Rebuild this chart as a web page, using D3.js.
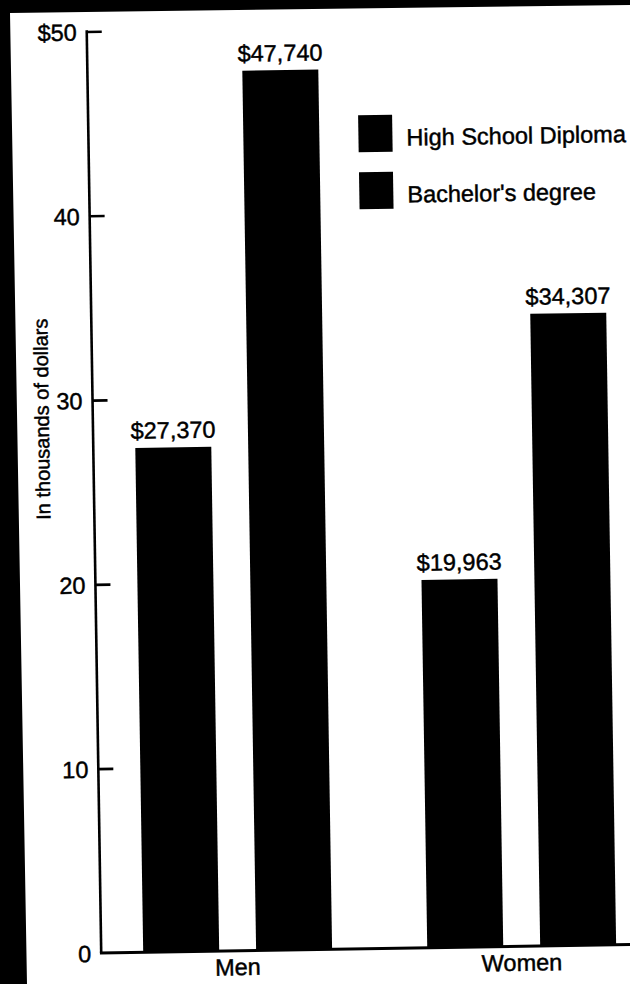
<!DOCTYPE html>
<html>
<head>
<meta charset="utf-8">
<script src="https://cdn.jsdelivr.net/npm/d3@7"></script>
<style>
  html, body { margin: 0; padding: 0; background: #fff; }
  svg { display: block; }
  text { font-family: "Liberation Sans", Arial, Helvetica, sans-serif; fill: #000; stroke: #000; stroke-width: 0.45px; }
</style>
</head>
<body>
<svg id="chart" width="630" height="984"></svg>
<script>
// Median earnings by education level and sex
const groups = ["Men", "Women"];
const series = ["High School Diploma", "Bachelor's degree"];
const highSchool = [27370, 19963];
const bachelors = [47740, 34307];
const tickValues = [0, 10, 20, 30, 40, 50];
const tickLabels = ["0", "10", "20", "30", "40", "$50"];
const valueLabels = [["$27,370", "$47,740"], ["$19,963", "$34,307"]];
const axisTitle = "In thousands of dollars";

const rows = groups.map((g, i) => ({
  group: g,
  values: [highSchool[i], bachelors[i]],
  labels: valueLabels[i]
}));

const W = 630, H = 984;
const FS = 23.5;
const svg = d3.select("#chart");

// the printed page sits slightly askew on the scan
const page = svg.append("g").attr("transform", "rotate(-0.9 315 492)");

const axisX = 94;
const y = d3.scaleLinear().domain([0, 50]).range([949.5, 28]);

const x0 = d3.scaleBand().domain(groups).range([136, 609])
  .paddingInner(0.335).paddingOuter(0);
const x1 = d3.scaleBand().domain(series).range([0, x0.bandwidth()])
  .paddingInner(0.327).paddingOuter(0);

// bars
const grp = page.selectAll("g.grp").data(rows).join("g")
  .attr("class", "grp")
  .attr("transform", d => `translate(${x0(d.group)},0)`);

const items = d => d.values.map((v, i) => ({ s: series[i], v, label: d.labels[i] }));

grp.selectAll("rect").data(items).join("rect")
  .attr("x", d => x1(d.s))
  .attr("y", d => y(d.v / 1000))
  .attr("width", x1.bandwidth())
  .attr("height", d => y(0) - y(d.v / 1000))
  .attr("fill", "#000");

grp.selectAll("text.val").data(items).join("text")
  .attr("class", "val")
  .attr("x", d => x1(d.s) + x1.bandwidth() / 2)
  .attr("y", d => y(d.v / 1000) - 9)
  .attr("text-anchor", "middle")
  .attr("font-size", FS)
  .text(d => d.label);

// y axis
const yAxis = d3.axisRight(y).tickValues(tickValues).tickSize(15)
  .tickFormat((d, i) => tickLabels[i]);
const ya = page.append("g").attr("transform", `translate(${axisX},0)`).call(yAxis);
ya.select(".domain").attr("stroke", "#000").attr("stroke-width", 2.6)
  .attr("d", `M0,${y(50) - 1.3}V${y(0)}`);
ya.selectAll(".tick line").attr("stroke", "#000").attr("stroke-width", 2.6);
ya.selectAll(".tick text")
  .attr("x", -10)
  .attr("dy", "0.36em")
  .attr("text-anchor", "end")
  .attr("font-size", FS)
  .attr("font-family", "'Liberation Sans', Arial, sans-serif")
  .attr("fill", "#000");
// zero tick is drawn by the baseline below
ya.selectAll(".tick").filter(d => d === 0).select("line").remove();

// baseline
page.append("line")
  .attr("x1", axisX - 1.3).attr("x2", W + 10)
  .attr("y1", y(0)).attr("y2", y(0))
  .attr("stroke", "#000").attr("stroke-width", 3);

// axis title
page.append("text")
  .attr("transform", "translate(50,415) rotate(-90)")
  .attr("text-anchor", "middle")
  .attr("font-size", 20)
  .text(axisTitle);

// group labels
page.selectAll("text.cat").data(groups).join("text")
  .attr("class", "cat")
  .attr("x", d => x0(d) + x0.bandwidth() / 2)
  .attr("y", 974)
  .attr("text-anchor", "middle")
  .attr("font-size", FS)
  .text(d => d);

// legend
const leg = page.append("g").attr("transform", "translate(364,116)");
const li = leg.selectAll("g").data(series).join("g")
  .attr("transform", (d, i) => `translate(0,${i * 57})`);
li.append("rect").attr("width", 34).attr("height", 37).attr("fill", "#000");
li.append("text").attr("x", 48).attr("y", 31).attr("font-size", FS).text(d => d);

// scanner border along the top and left edges
svg.append("path")
  .attr("d", "M0,0 L630,0 L630,5 L10,13 L27,984 L0,984 Z")
  .attr("fill", "#000");
</script>
</body>
</html>
